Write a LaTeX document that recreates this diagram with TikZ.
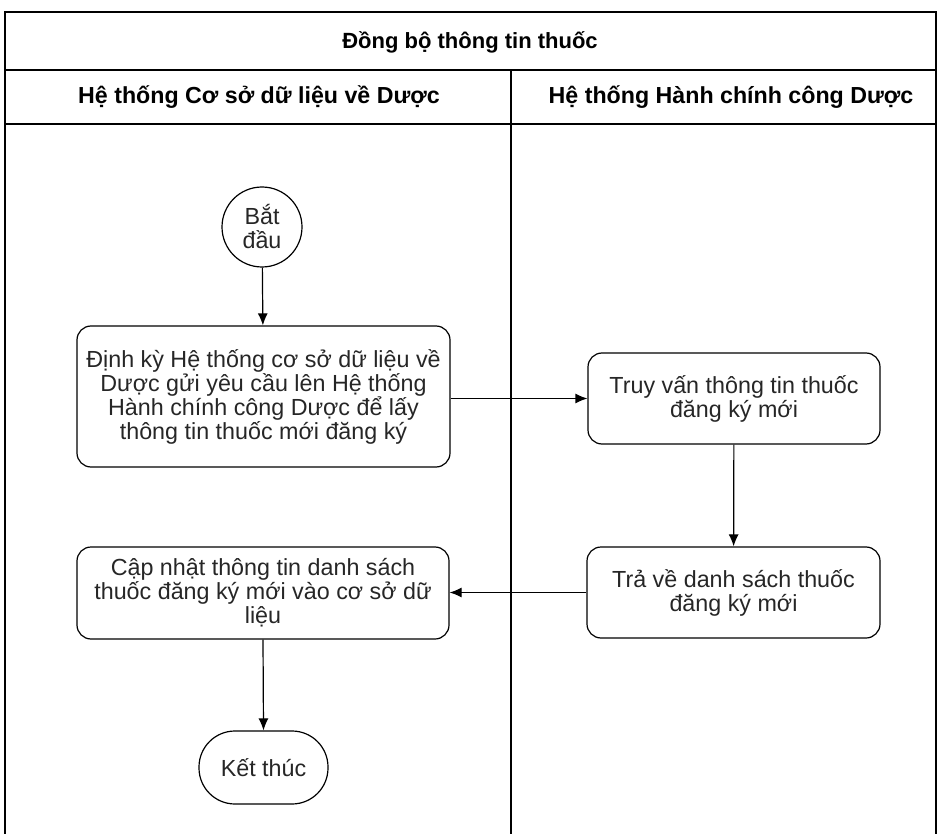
\documentclass[tikz,border=0pt]{standalone}
\usepackage{fontspec}
\setmainfont{Liberation Sans}
\usetikzlibrary{arrows.meta,shapes.geometric}
\begin{document}
\begin{tikzpicture}[x=1pt,y=-1pt,
  line width=1.2pt,
  frame/.style={draw=black, line width=1.2pt},
  proc/.style={draw=black, rounded corners=14pt, align=center, inner sep=0pt,
    font=\fontsize{23.3}{24}\selectfont, text=black!85},
  term/.style={draw=black, align=center, inner sep=0pt,
    font=\fontsize{23.3}{24}\selectfont, text=black!85},
  hdr/.style={font=\bfseries\fontsize{23.2}{26}\selectfont},
  flow/.style={draw=black, line width=1.2pt, -{Latex[length=12pt,width=10pt]}}
]
\useasboundingbox (0,0) rectangle (937,834);
% frame
\draw[frame] (5,12) rectangle (936,845);
\draw[frame] (5,70) -- (936,70);
\draw[frame] (5,124) -- (936,124);
\draw[frame] (511,70) -- (511,845);
\node[hdr, font=\bfseries\fontsize{22}{26}\selectfont] (title) at (470,42) {Đồng bộ thông tin thuốc};
\node[hdr] (lane1) at (259,97) {Hệ thống Cơ sở dữ liệu về Dược};
\node[hdr] (lane2) at (731,97) {Hệ thống Hành chính công Dược};
% nodes
\node[term, circle, minimum size=80pt] (start) at (262,227) {Bắt\\đầu};
\node[proc, minimum width=373pt, minimum height=141pt] (b1) at (263.5,396.5)
  {Định kỳ Hệ thống cơ sở dữ liệu về\\Dược gửi yêu cầu lên Hệ thống\\Hành chính công Dược để lấy\\thông tin thuốc mới đăng ký};
\node[proc, minimum width=292pt, minimum height=91pt] (b2) at (734,398.5)
  {Truy vấn thông tin thuốc\\đăng ký mới};
\node[proc, minimum width=293pt, minimum height=91pt] (b3) at (733.5,592.5)
  {Trả về danh sách thuốc\\đăng ký mới};
\node[proc, minimum width=372pt, minimum height=92pt] (b4) at (263,593)
  {Cập nhật thông tin danh sách\\thuốc đăng ký mới vào cơ sở dữ\\liệu};
\node[term, rounded corners=36pt, minimum width=129pt, minimum height=73pt] (end) at (263.5,767.5) {Kết thúc};
% connectors
\draw[flow] (start) -- (b1);
\draw[flow] (b1.east |- b2.west) -- (b2.west);
\draw[flow] (b2) -- (b3);
\draw[flow] (b3.west) -- (b4.east |- b3.west);
\draw[flow] (b4.south) -- (end.north);
\end{tikzpicture}
\end{document}
